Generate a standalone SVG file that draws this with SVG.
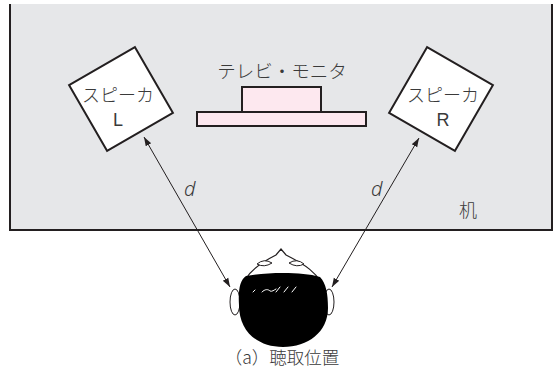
<svg xmlns="http://www.w3.org/2000/svg" width="557" height="378" viewBox="0 0 557 378">
  <defs>
    <marker id="arr" viewBox="0 0 10 10" refX="10" refY="5" markerWidth="9" markerHeight="9" markerUnits="userSpaceOnUse" orient="auto-start-reverse">
      <path d="M0,1.5 L10,5 L0,8.5 Z" fill="#231f20"/>
    </marker>
  </defs>
  <style>
    .jp { font-family: "Noto Sans CJK JP", "Noto Sans", sans-serif; font-weight: 300; fill: #3a3a3a; }
    .lat { font-family: "Liberation Sans", "Noto Sans", sans-serif; fill: #3a3a3a; }
    .spk { fill: #ffffff; stroke: #231f20; stroke-width: 2; }
    .tv { fill: #fde8ef; stroke: #231f20; stroke-width: 2; }
    .dist { fill: none; stroke: #231f20; stroke-width: 1; }
    .var { font-family: "Noto Sans", sans-serif; font-style: italic; font-weight: 300; font-size: 20px; fill: #3a3a3a; }
  </style>
  <rect width="557" height="378" fill="#ffffff"/>

  <!-- desk -->
  <g id="desk">
    <path d="M9,4 L553,4 L553,230 L9,230 Z" fill="#e6e7e9"/>
    <path d="M10,4 L10,230 L552,230 L552,4" fill="none" stroke="#231f20" stroke-width="2"/>
    <text class="jp" x="468" y="217" font-size="18" text-anchor="middle">机</text>
  </g>

  <!-- TV / monitor -->
  <g id="tv">
    <text class="jp" x="282" y="78" font-size="18.5" text-anchor="middle">テレビ・モニタ</text>
    <rect class="tv" x="242" y="87" width="79" height="25"/>
    <rect class="tv" x="197" y="112" width="169" height="14"/>
  </g>

  <!-- left speaker -->
  <g id="speaker-l">
    <rect class="spk" x="-38" y="-38" width="76" height="76" transform="translate(121,99) rotate(-30)"/>
    <text class="jp" x="118" y="102" font-size="18" text-anchor="middle">スピーカ</text>
    <text class="lat" x="118" y="126" font-size="18" text-anchor="middle">L</text>
  </g>

  <!-- right speaker -->
  <g id="speaker-r">
    <rect class="spk" x="-38" y="-38" width="76" height="76" transform="translate(441,99) rotate(30)"/>
    <text class="jp" x="443" y="102" font-size="18" text-anchor="middle">スピーカ</text>
    <text class="lat" x="443" y="126" font-size="18" text-anchor="middle">R</text>
  </g>

  <!-- listener -->
  <g id="listener">
    <!-- ears -->
    <ellipse cx="235" cy="302" rx="5" ry="13" fill="#ffffff" stroke="#231f20" stroke-width="1"/>
    <ellipse cx="329" cy="302" rx="5" ry="13" fill="#ffffff" stroke="#231f20" stroke-width="1"/>
    <!-- face outline with nose -->
    <path d="M242,292 C242,274 262,262 276,255 L281,249 L286,255 C300,262 323,274 323,292 Z" fill="#ffffff" stroke="#231f20" stroke-width="1.2"/>
    <!-- eyes -->
    <path d="M257,264 Q264,258 272,263 Q264,268 257,264 Z" fill="#ffffff" stroke="#231f20" stroke-width="1"/>
    <path d="M289,263 Q297,258 304,264 Q297,268 289,263 Z" fill="#ffffff" stroke="#231f20" stroke-width="1"/>
    <!-- hair -->
    <path d="M239,305 C238,290 240,280 246,276 C258,274 270,273 283,273 C298,273 310,274 320,277 C326,283 328,294 328,308 C328,332 308,347 283,347 C258,347 239,332 239,305 Z" fill="#000000"/>
    <g fill="none" stroke="#ffffff" stroke-width="1" stroke-linecap="round">
      <path d="M253,292 L255,290"/>
      <path d="M262,292 C265,289 268,289 270,291 C272,292 274,290 276,289"/>
      <path d="M276,292 L280,287"/>
      <path d="M284,292 L288,287"/>
      <path d="M292,292 L296,287"/>
    </g>
  </g>

  <!-- distance connectors -->
  <g id="connectors">
    <line class="dist" x1="144" y1="137" x2="230" y2="287" marker-start="url(#arr)" marker-end="url(#arr)"/>
    <line class="dist" x1="419" y1="138" x2="332" y2="287" marker-start="url(#arr)" marker-end="url(#arr)"/>
    <text class="var" x="184" y="196">d</text>
    <text class="var" x="371" y="196">d</text>
  </g>

  <!-- caption -->
  <text class="jp" x="282" y="364" font-size="17.5" text-anchor="middle">（a）聴取位置</text>
</svg>
